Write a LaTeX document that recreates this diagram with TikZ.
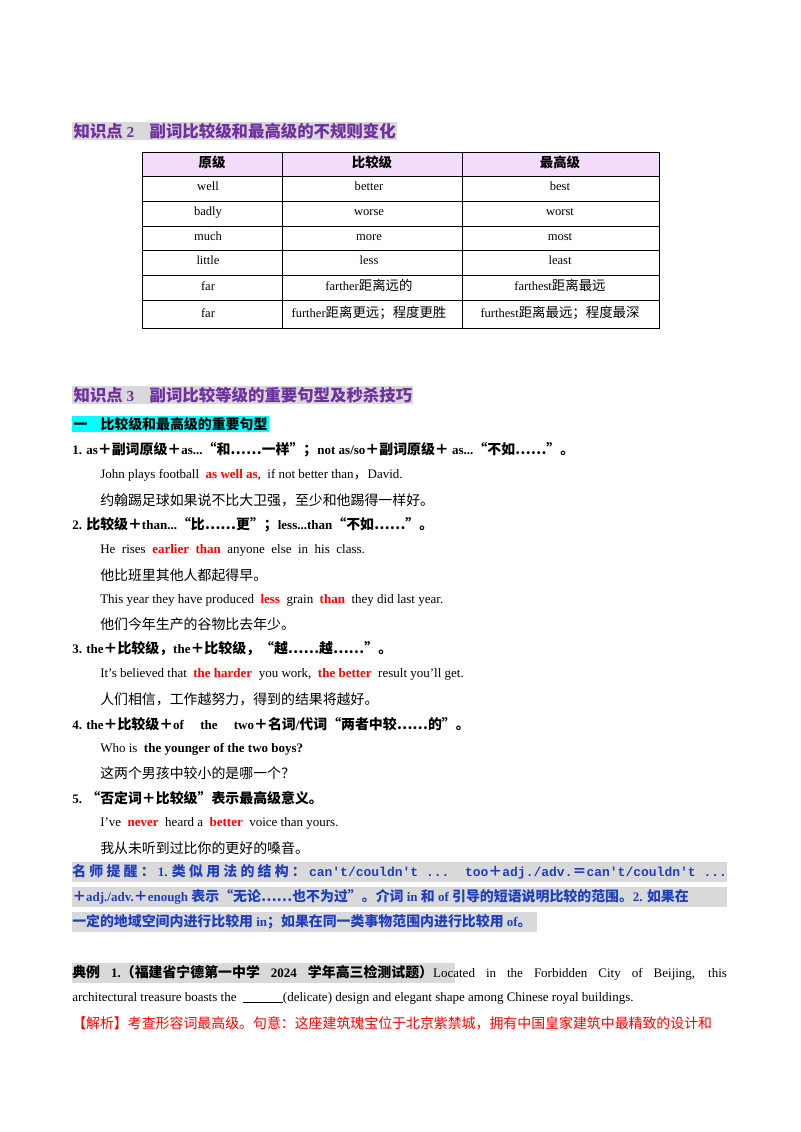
\documentclass[tikz,border=0pt]{standalone}
\usepackage{fontspec}
\setmainfont{Liberation Serif}
\setmonofont{Liberation Mono}
\newfontfamily\cjk{Noto Sans CJK SC}[Scale=1.07]
\newcommand\latinfam{\rmfamily}
\XeTeXinterchartokenstate=1
\newXeTeXintercharclass\cjkclass
\count255="4E00 \loop \XeTeXcharclass\count255=\cjkclass \advance\count255 1 \ifnum\count255<"A000 \repeat
\count255="3000 \loop \XeTeXcharclass\count255=\cjkclass \advance\count255 1 \ifnum\count255<"3040 \repeat
\count255="FF00 \loop \XeTeXcharclass\count255=\cjkclass \advance\count255 1 \ifnum\count255<"FFF0 \repeat
\XeTeXcharclass"2026=\cjkclass \XeTeXcharclass"201C=\cjkclass \XeTeXcharclass"201D=\cjkclass
\XeTeXinterchartoks 0 \cjkclass={\cjk}
\XeTeXinterchartoks 4095 \cjkclass={\cjk}
\XeTeXinterchartoks \cjkclass 0={\latinfam}
\XeTeXinterchartoks \cjkclass 4095={\latinfam}
\definecolor{hpurple}{HTML}{7030A0}
\definecolor{hgray}{HTML}{D9D9D9}
\definecolor{thead}{HTML}{F2DCF9}
\definecolor{nblue}{HTML}{1F3FBF}
\definecolor{bcyan}{HTML}{00FFFF}
\begin{document}
\begin{tikzpicture}[x=0.75pt,y=-0.75pt,
  body/.style={anchor=west,inner sep=0pt,font=\fontsize{9.75pt}{11pt}\selectfont},
  head/.style={anchor=west,inner sep=1pt,fill=hgray,text=hpurple,font=\fontsize{11.5pt}{13pt}\selectfont\bfseries},
  cell/.style={inner sep=0pt,text height=7pt,text depth=2pt,font=\fontsize{9.4pt}{11pt}\selectfont},
  note/.style={anchor=west,inner sep=0pt,text=nblue,font=\fontsize{9.75pt}{11pt}\selectfont\bfseries}]
\useasboundingbox[fill=white] (0,0) rectangle (800,1132);
\node[head] (h1) at (72,131) {知识点 2\quad 副词比较级和最高级的不规则变化};
% table
\fill[thead] (142,152) rectangle (659,176);
\draw[line width=0.6pt] (142,152) rectangle (659,328);
\foreach \y in {176,201,226,250,275,300} \draw[line width=0.6pt] (142,\y) -- (659,\y);
\foreach \x in {282,462} \draw[line width=0.6pt] (\x,152) -- (\x,328);
\node[cell,font=\fontsize{9.4pt}{11pt}\selectfont\bfseries] (c01) at (212,164) {原级};
\node[cell,font=\fontsize{9.4pt}{11pt}\selectfont\bfseries] (c02) at (372,164) {比较级};
\node[cell,font=\fontsize{9.4pt}{11pt}\selectfont\bfseries] (c03) at (560,164) {最高级};
\node[cell] at (208,187) {well}; \node[cell] at (369,187) {better}; \node[cell] at (560,187) {best};
\node[cell] at (208,212) {badly}; \node[cell] at (369,212) {worse}; \node[cell] at (560,212) {worst};
\node[cell] at (208,237) {much}; \node[cell] at (369,237) {more}; \node[cell] at (560,237) {most};
\node[cell] at (208,261) {little}; \node[cell] at (369,261) {less}; \node[cell] at (560,261) {least};
\node[cell] at (208,287) {far}; \node[cell] at (369,287) {farther距离远的}; \node[cell] at (560,287) {farthest距离最远};
\node[cell] at (208,314) {far}; \node[cell] at (369,314) {further距离更远；程度更胜}; \node[cell] at (560,314) {furthest距离最远；程度最深};
% section 3
\node[head] (h2) at (72,395) {知识点 3\quad 副词比较等级的重要句型及秒杀技巧};
\node[body,fill=bcyan,inner sep=1pt,font=\fontsize{9.75pt}{11pt}\selectfont\bfseries] (sub) at (72,424) {一\quad 比较级和最高级的重要句型};
\node[body,font=\fontsize{9.75pt}{11pt}\selectfont\bfseries] (p1) at (72,450) {1. as＋副词原级＋as...“和……一样”；not as/so＋副词原级＋ as...“不如……”。};
\node[body] (e1) at (100,475) {John plays football \ {\color{red}\bfseries as well as}, \ if not better than，David.};
\node[body] (t1) at (100,500) {约翰踢足球如果说不比大卫强，至少和他踢得一样好。};
\node[body,font=\fontsize{9.75pt}{11pt}\selectfont\bfseries] (p2) at (72,525) {2. 比较级＋than...“比……更”；less...than“不如……”。};
\node[body] (e2) at (100,550) {He \ rises \ {\color{red}\bfseries earlier \ than} \ anyone \ else \ in \ his \ class.};
\node[body] (t2) at (100,575) {他比班里其他人都起得早。};
\node[body] (e3) at (100,600) {This year they have produced \ {\color{red}\bfseries less} \ grain \ {\color{red}\bfseries than} \ they did last year.};
\node[body] (t3) at (100,624) {他们今年生产的谷物比去年少。};
\node[body,font=\fontsize{9.75pt}{11pt}\selectfont\bfseries] (p3) at (72,649) {3. the＋比较级，the＋比较级，“越……越……”。};
\node[body] (e4) at (100,674) {It's believed that \ {\color{red}\bfseries the harder} \ you work, \ {\color{red}\bfseries the better} \ result you'll get.};
\node[body] (t4) at (100,699) {人们相信，工作越努力，得到的结果将越好。};
\node[body,font=\fontsize{9.75pt}{11pt}\selectfont\bfseries] (p4) at (72,724) {4. the＋比较级＋of \quad the \quad two＋名词/代词“两者中较……的”。};
\node[body] (e5) at (100,749) {Who is \ {\bfseries the younger of the two boys?}};
\node[body] (t5) at (100,773) {这两个男孩中较小的是哪一个？};
\node[body,font=\fontsize{9.75pt}{11pt}\selectfont\bfseries] (p5) at (72,798) {5. “否定词＋比较级”表示最高级意义。};
\node[body] (e6) at (100,823) {I've \ {\color{red}\bfseries never} \ heard a \ {\color{red}\bfseries better} \ voice than yours.};
\node[body] (t6) at (100,848) {我从未听到过比你的更好的嗓音。};
% note
\fill[hgray] (72,862) rectangle (727,882);
\fill[hgray] (72,887) rectangle (727,907);
\fill[hgray] (72,912) rectangle (537,932);
\node[note] (n1) at (72,872) {\makebox[491pt][s]{名 师 提 醒 ： 1. 类 似 用 法 的 结 构 ： {\ttfamily\let\latinfam\ttfamily can't/couldn't ... \ too}＋{\ttfamily\let\latinfam\ttfamily adj./adv.}＝{\ttfamily\let\latinfam\ttfamily can't/couldn't ...}}};
\node[note] (n2) at (72,897) {＋adj./adv.＋enough 表示“无论……也不为过”。介词 in 和 of 引导的短语说明比较的范围。2. 如果在};
\node[note] (n3) at (72,922) {一定的地域空间内进行比较用 in；如果在同一类事物范围内进行比较用 of。};
% example
\fill[hgray] (72,963) rectangle (455,983);
\node[body] (x1) at (72,973) {\makebox[491pt][s]{{\bfseries 典例 1.（福建省宁德第一中学 2024 学年高三检测试题）}Located in the Forbidden City of Beijing, this}};
\node[body] (x2) at (72,998) {architectural treasure boasts the \ \rule[-1pt]{30pt}{0.5pt}(delicate) design and elegant shape among Chinese royal buildings.};
\node[body,text=red] (x3) at (72,1023) {【解析】考查形容词最高级。句意：这座建筑瑰宝位于北京紫禁城，拥有中国皇家建筑中最精致的设计和};
\end{tikzpicture}
\end{document}
